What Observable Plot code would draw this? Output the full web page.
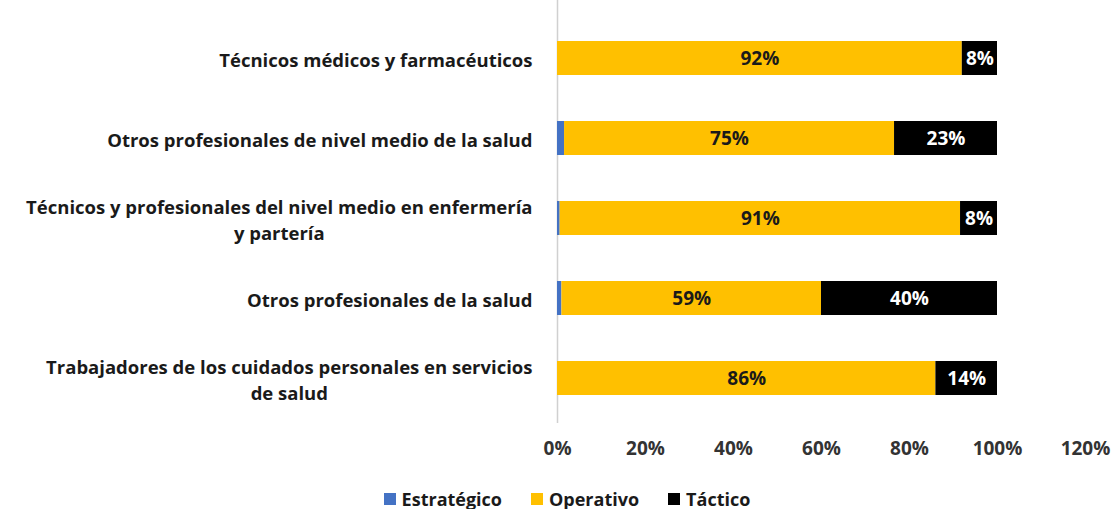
<!DOCTYPE html>
<html>
<head>
<meta charset="utf-8">
<script src="https://cdn.jsdelivr.net/npm/d3@7"></script>
<script src="https://cdn.jsdelivr.net/npm/@observablehq/plot@0.6"></script>
<style>
  body { margin: 0; background: #fff; font-family: "Open Sans", sans-serif; }
  #legend { display: flex; justify-content: center; gap: 29px; margin-left: 18px; margin-top: 18px;
            font-weight: 700; font-size: 18px; color: #1a1a1a; line-height: 22px; }
  #legend span.item { display: flex; align-items: center; gap: 6px; }
  #legend span.sw { width: 12px; height: 12px; display: inline-block; }
</style>
</head>
<body>
<div id="chart"></div>
<div id="legend"></div>
<script>
const categories = [
  "Técnicos médicos y farmacéuticos",
  "Otros profesionales de nivel medio de la salud",
  "Técnicos y profesionales del nivel medio en enfermería\ny partería",
  "Otros profesionales de la salud",
  "Trabajadores de los cuidados personales en servicios\nde salud"
];
const series = ["Estratégico", "Operativo", "Táctico"];
const colors = ["#4472C4", "#FFC000", "#000000"];
const estrategico = [0, 1.6, 0.6, 1, 0];
const operativo = [92, 75, 91, 59, 86];
const tactico = [8, 23.4, 8.4, 40, 14];
const xTicks = [0, 20, 40, 60, 80, 100, 120];

const values = [estrategico, operativo, tactico];
const data = [];
categories.forEach((c, i) => series.forEach((s, j) => data.push({cat: c, series: s, value: values[j][i]})));

// label positions (segment midpoints) derived from the data
const labels = [];
categories.forEach((c, i) => {
  let start = 0;
  series.forEach((s, j) => {
    const v = values[j][i];
    if (j > 0) labels.push({cat: c, series: s, mid: start + v / 2, text: Math.round(v) + "%"});
    start += v;
  });
});

const chart = Plot.plot({
  width: 1116,
  height: 470,
  marginLeft: 557,
  marginRight: 31,
  marginTop: 0,
  marginBottom: 35,
  style: {fontFamily: "'Open Sans', sans-serif", background: "#fff"},
  x: {domain: [0, 120], axis: null},
  y: {domain: categories, padding: 0.58, paddingOuter: 0.5, axis: null},
  color: {domain: series, range: colors},
  marks: [
    Plot.ruleX([0], {stroke: "#d0d0d0", strokeWidth: 1.5, insetBottom: 12}),
    Plot.barX(data, Plot.stackX({x: "value", y: "cat", fill: "series", order: series})),
    Plot.text(labels.filter(d => d.series === "Operativo"), {x: "mid", y: "cat", text: "text", fill: "#1a1a1a", fontWeight: 700, fontSize: 19}),
    Plot.text(labels.filter(d => d.series === "Táctico"), {x: "mid", y: "cat", text: "text", fill: "#ffffff", fontWeight: 700, fontSize: 19}),
    Plot.axisX({ticks: xTicks, tickSize: 0, tickPadding: 6, tickFormat: d => d + "%", fontSize: 19, fontWeight: 700, fill: "#333", anchor: "bottom", label: null}),
    Plot.axisY({tickSize: 0, tickPadding: 25, fontSize: 18.5, fontWeight: 700, fill: "#1a1a1a", lineHeight: 1.4, anchor: "left", label: null})
  ]
});
document.getElementById("chart").appendChild(chart);

// center the lines of multi-line category labels within their right-aligned block
chart.querySelectorAll('g[aria-label="y-axis tick label"] text').forEach(t => {
  if (t.querySelectorAll("tspan").length > 1) {
    const w = t.getBBox().width;
    t.setAttribute("text-anchor", "middle");
    t.querySelectorAll("tspan").forEach(ts => ts.setAttribute("x", -w / 2));
  }
});

const legend = document.getElementById("legend");
series.forEach((s, j) => {
  const item = document.createElement("span");
  item.className = "item";
  item.innerHTML = `<span class="sw" style="background:${colors[j]}"></span>${s}`;
  legend.appendChild(item);
});
</script>
</body>
</html>
